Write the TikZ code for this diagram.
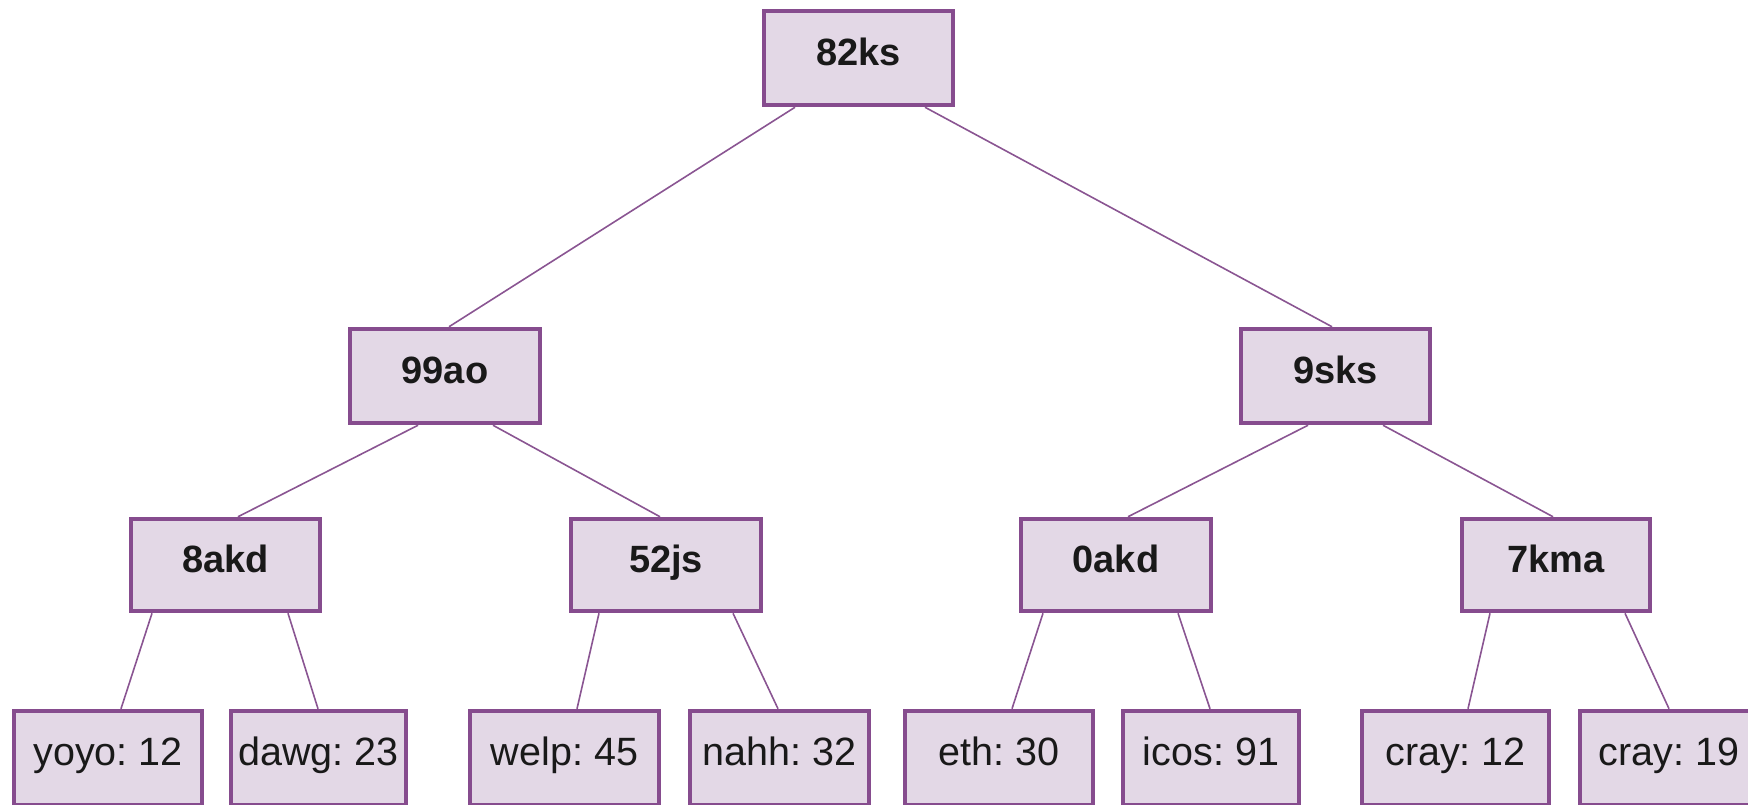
\documentclass[tikz,border=0pt]{standalone}
\usepackage{fontspec}
\setmainfont{Liberation Sans}
\definecolor{boxfill}{HTML}{E3D8E6}
\definecolor{boxline}{HTML}{864C8E}
\definecolor{connline}{HTML}{8A5592}
\begin{document}
\frenchspacing
\begin{tikzpicture}[x=1pt,y=-1pt,
  tnode/.style={draw=boxline, fill=boxfill, line width=4.5pt, inner sep=0pt,
    minimum height=94pt, text height=27pt, text depth=12pt,
    font=\fontsize{38}{40}\selectfont, text=black!90},
  inner/.style={tnode, font=\fontsize{38}{40}\selectfont\bfseries},
  leaf/.style={tnode, font=\fontsize{39.5}{41}\selectfont},
  conn/.style={draw=connline, line width=1.6pt}]
\useasboundingbox (0,0) rectangle (1748,804);
% internal nodes
\node[inner, minimum width=189pt] (root) at (858.5,58) {82ks};
\node[inner, minimum width=190pt] (a) at (445,376) {99ao};
\node[inner, minimum width=189pt] (b) at (1335.5,376) {9sks};
\node[inner, minimum width=189pt, minimum height=92pt] (aa) at (225.5,565) {8akd};
\node[inner, minimum width=190pt, minimum height=92pt] (ab) at (666,565) {52js};
\node[inner, minimum width=190pt, minimum height=92pt] (ba) at (1116,565) {0akd};
\node[inner, minimum width=188pt, minimum height=92pt] (bb) at (1556,565) {7kma};
% leaves
\node[leaf, minimum width=188pt] (l1) at (108,758) {yoyo: 12};
\node[leaf, minimum width=175pt] (l2) at (318.5,758) {dawg: 23};
\node[leaf, minimum width=189pt] (l3) at (564.5,758) {welp: 45};
\node[leaf, minimum width=179pt] (l4) at (779.5,758) {nahh: 32};
\node[leaf, minimum width=188pt] (l5) at (999,758) {eth: 30};
\node[leaf, minimum width=176pt] (l6) at (1211,758) {icos: 91};
\node[leaf, minimum width=187pt] (l7) at (1455.5,758) {cray: 12};
\node[leaf, minimum width=178pt] (l8) at (1669,758) {cray: 19};
% connectors
\draw[conn] ([xshift=-63.5pt]root.south) -- ([xshift=4pt]a.north);
\draw[conn] ([xshift=66.5pt]root.south) -- ([xshift=-3.5pt]b.north);
\draw[conn] ([xshift=-27pt]a.south) -- ([xshift=12.5pt]aa.north);
\draw[conn] ([xshift=48pt]a.south) -- ([xshift=-6pt]ab.north);
\draw[conn] ([xshift=-27.5pt]b.south) -- ([xshift=12pt]ba.north);
\draw[conn] ([xshift=47.5pt]b.south) -- ([xshift=-3pt]bb.north);
\draw[conn] ([xshift=-73.5pt]aa.south) -- ([xshift=13pt]l1.north);
\draw[conn] ([xshift=62.5pt]aa.south) -- ([xshift=-0.5pt]l2.north);
\draw[conn] ([xshift=-67pt]ab.south) -- ([xshift=12.5pt]l3.north);
\draw[conn] ([xshift=67pt]ab.south) -- ([xshift=-1.5pt]l4.north);
\draw[conn] ([xshift=-73pt]ba.south) -- ([xshift=13pt]l5.north);
\draw[conn] ([xshift=62pt]ba.south) -- ([xshift=-1pt]l6.north);
\draw[conn] ([xshift=-66pt]bb.south) -- ([xshift=12.5pt]l7.north);
\draw[conn] ([xshift=69pt]bb.south) -- ([xshift=0pt]l8.north);
\end{tikzpicture}
\end{document}
